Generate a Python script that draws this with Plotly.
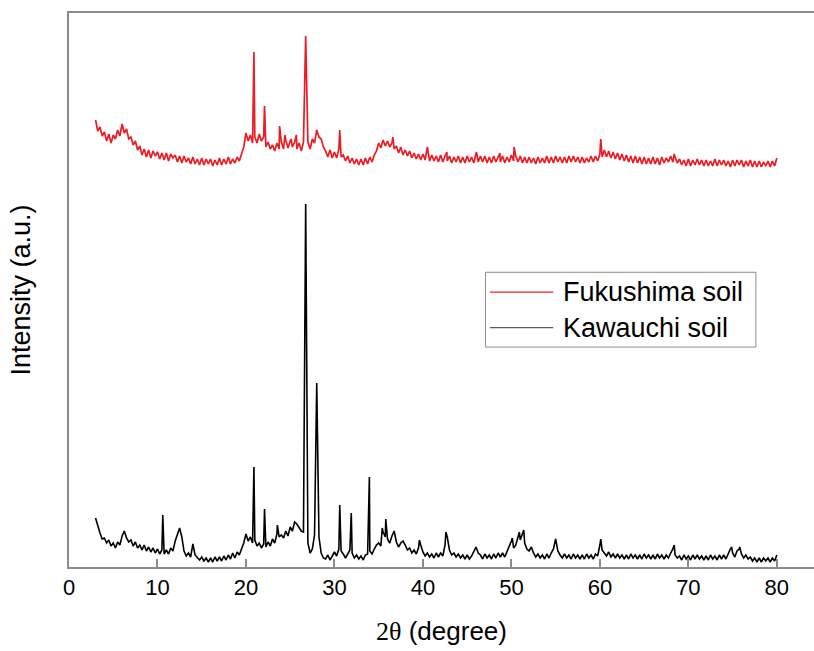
import plotly.graph_objects as go

# ---------------- data ----------------
scan_start = 3.0      # degrees 2theta
scan_step = 0.25      # degrees 2theta

# Fukushima soil: background counts every 0.25 deg from 3.00 to 80.00 (a.u.)
fukushima_counts = [
    447, 436, 440, 431,  435, 426, 433, 424,  432, 428, 437, 431,  443, 434, 438, 428,   # 3-6
    430, 422, 426, 417,  421, 412, 418, 410,  417, 409, 416, 411,  415, 408, 414, 407,   # 7-10
    414, 406, 413, 409,  412, 405, 411, 404,  411, 405, 409, 403,  410, 403, 408, 402,   # 11-14
    409, 402, 408, 403,  408, 401, 407, 402,  409, 402, 408, 403,  410, 403, 408, 404,   # 15-18
    410, 406, 413, 420,  434, 426, 432, 424,  430, 424, 433, 426,  430, 420, 425, 418,   # 19-22
    422, 416, 424, 418,  425, 418, 427, 419,  426, 420, 425, 418,  424, 416, 425, 420,   # 23-26
    425, 418, 428, 424,  437, 430, 428, 420,  416, 410, 417, 409,  415, 409, 418, 410,   # 27-30
    412, 406, 411, 404,  409, 403, 408, 402,  408, 402, 409, 403,  410, 405, 412, 416,   # 31-34
    424, 419, 427, 421,  426, 420, 424, 418,  421, 414, 420, 412,  417, 411, 416, 409,   # 35-38
    414, 408, 413, 407,  413, 407, 412, 406,  412, 406, 411, 405,  412, 405, 411, 406,   # 39-42
    411, 404, 410, 405,  411, 404, 410, 404,  411, 405, 410, 404,  412, 405, 411, 405,   # 43-46
    411, 404, 410, 404,  411, 405, 410, 405,  411, 404, 410, 405,  412, 406, 411, 405,   # 47-50
    411, 404, 410, 404,  410, 404, 409, 403,  410, 404, 409, 404,  411, 404, 410, 404,   # 51-54
    411, 405, 410, 404,  410, 404, 411, 405,  411, 405, 410, 404,  410, 404, 409, 405,   # 55-58
    411, 405, 411, 406,  413, 410, 417, 410,  416, 409, 415, 408,  414, 407, 413, 406,   # 59-62
    412, 405, 411, 404,  411, 404, 410, 403,  410, 403, 409, 403,  410, 403, 409, 402,   # 63-66
    410, 404, 409, 405,  411, 405, 410, 404,  408, 402, 407, 401,  408, 401, 407, 402,   # 67-70
    408, 402, 407, 401,  407, 401, 406, 401,  408, 401, 407, 402,  407, 401, 406, 400,   # 71-74
    407, 401, 407, 402,  407, 400, 406, 401,  407, 400, 406, 400,  406, 400, 405, 401,   # 75-78
    406, 400, 406, 401,                                                                  # 79
    409,                                                                                 # 80
]

# Fukushima soil: diffraction peaks (2theta, counts)
fukushima_peak_2theta = [20.9, 22.1, 23.8, 24.4, 25.1, 25.7, 26.75, 30.6, 36.6,
                         40.5, 42.7, 46.05, 48.7, 50.3, 60.1, 68.4]
fukushima_peak_counts = [515, 461, 441, 432, 428, 432, 531, 437, 430,
                         420, 415, 415, 414, 420, 428, 413]

# Kawauchi soil: background counts every 0.25 deg from 3.00 to 80.00 (a.u.)
kawauchi_counts = [
    49, 40, 34, 28,  29, 24, 27, 21,  24, 19, 25, 22,  31, 36, 29, 25,   # 3-6
    27, 21, 25, 19,  22, 17, 22, 16,  20, 15, 19, 14,  18, 13, 17, 13,   # 7-10
    17, 13, 19, 16,  26, 33, 39, 30,  16, 11, 14, 10,  23, 12, 10, 7,    # 11-14
    10, 6, 9, 5,     9, 5, 10, 6,     10, 6, 11, 7,    12, 8, 14, 9,     # 15-18
    15, 12, 18, 24,  33, 26, 30, 24,  27, 21, 24, 19,  23, 20, 25, 21,   # 19-22
    28, 24, 33, 30,  32, 29, 36, 31,  40, 36, 45, 43,  40, 36, 35, 30,   # 23-26
    24, 14, 18, 32,  35, 30, 14, 9,   8, 12, 7, 11,    15, 11, 18, 16,   # 27-30
    13, 9, 13, 17,   14, 9, 12, 8,    11, 7, 12, 13,   16, 13, 18, 22,   # 31-34
    24, 21, 35, 30,  28, 24, 31, 36,  25, 20, 24, 26,  22, 17, 19, 14,   # 35-38
    17, 13, 19, 22,  15, 11, 14, 10,  13, 9, 14, 10,   14, 11, 22, 30,   # 39-42
    17, 12, 14, 10,  13, 9, 12, 8,    12, 8, 11, 15,   20, 14, 12, 8,    # 43-46
    13, 9, 12, 8,    13, 9, 14, 10,   14, 10, 15, 20,  26, 19, 22, 30,   # 47-50
    27, 34, 24, 18,  16, 20, 14, 10,  13, 9, 12, 8,    13, 9, 14, 18,    # 51-54
    27, 16, 12, 9,   13, 9, 12, 8,    13, 9, 12, 8,    12, 8, 13, 9,     # 55-58
    12, 8, 13, 11,   22, 17, 14, 11,  15, 10, 13, 9,   13, 9, 12, 8,     # 59-62
    12, 8, 13, 9,    12, 8, 12, 8,    13, 9, 12, 8,    12, 8, 13, 9,     # 63-66
    12, 8, 12, 9,    14, 18, 12, 9,   11, 7, 12, 8,    11, 7, 12, 8,     # 67-70
    12, 8, 11, 7,    11, 7, 12, 8,    11, 7, 12, 8,    12, 8, 14, 18,    # 71-74
    14, 10, 16, 18,  13, 9, 12, 8,    10, 6, 9, 5,     9, 5, 9, 6,       # 75-78
    9, 5, 9, 6,                                                          # 79
    12,                                                                  # 80
]

# Kawauchi soil: diffraction peaks (2theta, counts)
kawauchi_peak_2theta = [10.6, 20.9, 22.1, 23.55, 26.75, 28.0, 30.6, 31.9, 33.95,
                        35.4, 35.8, 36.7, 39.6, 42.6, 50.1, 50.9, 51.4, 55.0,
                        60.1, 68.4, 74.9, 75.8]
kawauchi_peak_counts = [52, 100, 58, 42, 363, 184, 62, 54, 90,
                        39, 48, 34, 27, 35, 29, 35, 37, 28,
                        28, 22, 20, 20]

series_names = ["Fukushima soil", "Kawauchi soil"]
series_colors = ["rgb(237,28,36)", "rgb(0,0,0)"]
legend_colors = ["rgb(237,28,36)", "rgb(90,90,90)"]
x_ticks = [0, 10, 20, 30, 40, 50, 60, 70, 80]


def pattern(counts, peak_x, peak_y):
    pts = {round(scan_start + i * scan_step, 3): v for i, v in enumerate(counts)}
    for px, py in zip(peak_x, peak_y):
        pts[round(px, 3)] = py
    xs = sorted(pts)
    return xs, [pts[x] for x in xs]


fx, fy = pattern(fukushima_counts, fukushima_peak_2theta, fukushima_peak_counts)
kx, ky = pattern(kawauchi_counts, kawauchi_peak_2theta, kawauchi_peak_counts)

FONT = "Arial, 'Liberation Sans', sans-serif"
AXIS_GRAY = "rgb(140,140,140)"

fig = go.Figure()
fig.add_trace(go.Scatter(x=fx, y=fy, mode="lines", name=series_names[0],
                         line=dict(color=series_colors[0], width=1.7), showlegend=False))
fig.add_trace(go.Scatter(x=kx, y=ky, mode="lines", name=series_names[1],
                         line=dict(color=series_colors[1], width=1.6), showlegend=False))

# legend drawn as a framed box (paper coordinates)
box = dict(x0=0.559, x1=0.922, y0=0.397, y1=0.532)
row_y = [0.496, 0.432]
shapes = [dict(type="rect", xref="paper", yref="paper", **box,
               line=dict(color=AXIS_GRAY, width=1), fillcolor="white", layer="above")]
annotations = []
for i, name in enumerate(series_names):
    shapes.append(dict(type="line", xref="paper", yref="paper",
                       x0=0.565, x1=0.650, y0=row_y[i], y1=row_y[i],
                       line=dict(color=legend_colors[i], width=1.2), layer="above"))
    annotations.append(dict(xref="paper", yref="paper", x=0.661, y=row_y[i],
                            xanchor="left", yanchor="middle", showarrow=False,
                            text=name, font=dict(family=FONT, size=27, color="black")))

fig.update_layout(
    width=814, height=651,
    margin=dict(l=69, r=0, t=13, b=84),
    paper_bgcolor="white", plot_bgcolor="white",
    font=dict(family=FONT, color="black"),
    shapes=shapes, annotations=annotations,
    xaxis=dict(
        range=[0, 84.2], tickvals=x_ticks, ticktext=[str(t) for t in x_ticks],
        ticks="inside", ticklen=8, tickwidth=1.5, tickcolor=AXIS_GRAY,
        showline=True, linecolor=AXIS_GRAY, linewidth=2, mirror=True,
        showgrid=False, zeroline=False,
        tickfont=dict(family=FONT, size=22, color="black"),
        title=dict(text="<span style=\"font-family:'Liberation Serif', 'Times New Roman', serif\">2θ</span> (degree)",
                   font=dict(family=FONT, size=26, color="black"), standoff=22),
    ),
    yaxis=dict(
        range=[0, 554], showticklabels=False, ticks="",
        showline=True, linecolor=AXIS_GRAY, linewidth=2, mirror=False,
        showgrid=False, zeroline=False,
        title=dict(text="Intensity (a.u.)", font=dict(family=FONT, size=27, color="black"),
                   standoff=29),
    ),
)

fig.write_html("out.html")
